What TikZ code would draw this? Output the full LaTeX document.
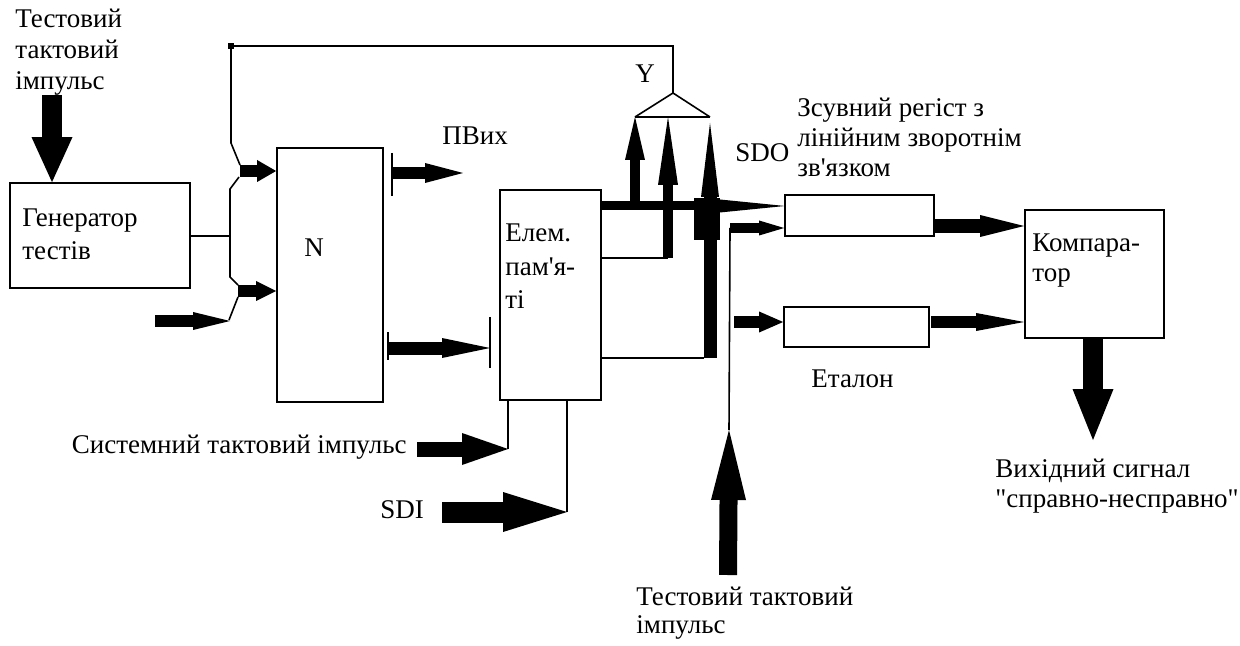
\documentclass[tikz,border=0pt]{standalone}
\usepackage{fontspec}
\setmainfont{Liberation Serif}
\usetikzlibrary{arrows.meta}

\begin{document}
\begin{tikzpicture}[
  x=0.5pt, y=-0.5pt,
  font=\fontsize{13.5}{15.5}\selectfont,
  box/.style={draw,line width=0.9pt,inner sep=0pt},
  txt/.style={inner sep=0pt,align=left,anchor=base west},
  wire/.style={line width=0.8pt},
  fat/.style n args={3}{line width=#1,-{Triangle[length=#2,width=#3,line width=0pt]}}
]
\useasboundingbox (0,0) rectangle (1240,646);

% blocks
\node[box,minimum width=90pt,minimum height=52.5pt] (gen) at (100,235.5) {};
\node[box,minimum width=53pt,minimum height=127pt] (nbox) at (330,275) {};
\node[box,minimum width=50.5pt,minimum height=105pt] (mem) at (550.5,295) {};
\node[box,minimum width=74.5pt,minimum height=20.5pt] (reg) at (859.5,215.5) {};
\node[box,minimum width=72.5pt,minimum height=20pt] (etal) at (856.5,327) {};
\node[box,minimum width=69.5pt,minimum height=64pt] (comp) at (1094.5,274) {};

% texts (multi-line ones sit on their last baseline)
\node[txt] (tclklab) at (15,90) {Тестовий\\тактовий\\імпульс};
\node[txt,font=\fontsize{13.5}{16.5}\selectfont] (genlab) at (22,260) {Генератор\\тестів};
\node[txt] (nlab) at (304,257) {N};
\node[txt] (pvlab) at (442,145) {ПВих};
\node[txt,font=\fontsize{13.5}{16.5}\selectfont] (memlab) at (505,308) {Елем.\\пам\textquotesingle я-\\ті};
\node[txt] (ylab) at (635,83) {Y};
\node[txt] (sdolab) at (735,162) {SDO};
\node[txt,font=\fontsize{13.5}{15}\selectfont] (reglab) at (797,177) {Зсувний регіст з\\лінійним зворотнім\\зв\textquotesingle язком};
\node[txt] (etallab) at (811,387) {Еталон};
\node[txt,font=\fontsize{13.5}{15}\selectfont] (complab) at (1032,282) {Компара-\\тор};
\node[txt,font=\fontsize{13.5}{15}\selectfont] (outlab) at (995,507) {Вихідний сигнал\\\textquotedbl справно-несправно\textquotedbl};
\node[txt,anchor=base east] (syslab) at (407,453) {Системний тактовий імпульс};
\node[txt] (sdilab) at (380,518) {SDI};
\node[txt,font=\fontsize{13.5}{14}\selectfont] (tclk2lab) at (636,633) {Тестовий тактовий\\імпульс};

% points
\coordinate (tclk) at (52,95);
\coordinate (fb) at (231,46);
\coordinate (jn) at (230,236);
\coordinate (swA) at (240,171);
\coordinate (swB) at (238,291);
\coordinate (inL) at (155,321);
\coordinate (pvx) at (392,173);
\coordinate (pvend) at (463,173);
\coordinate (nq) at (388,348);
\coordinate (mq) at (490,348);
\coordinate (yap) at (673,93);
\coordinate (yl) at (635,117);
\coordinate (ym) at (668,117);
\coordinate (yr) at (710,117);
\coordinate (q2) at (668,258);
\coordinate (q3) at (710,358);
\coordinate (sdoin) at (785,206);
\coordinate (tc0) at (728,575);
\coordinate (tc1) at (729,430);
\coordinate (tcin) at (730,228);
\coordinate (ein) at (734,322);
\coordinate (r2c) at (934,226);
\coordinate (e2c) at (931,322);
\coordinate (outtip) at (1093,440);
\coordinate (sysT) at (417,449);
\coordinate (sysH) at (508,449);
\coordinate (sdiT) at (442,512);
\coordinate (sdiH) at (567,512);

% test clock into generator
\draw[fat={10pt}{22.5pt}{20.5pt}] (tclk) -- (tclk |- gen.north);

% feedback from Y and the input switches of N
\draw[wire] (yap) -- (yap |- fb) -- (fb) -- (231,143) -- (240,165);
\draw[line width=0.6pt] (229,44) rectangle (233,48);
\draw[wire] (239,177) -- (230,189) -- (230,277) -- (238,285);
\draw[wire] (238,297) -- (229,320);
\draw[wire] (gen.east |- jn) -- (jn);
\draw[fat={6pt}{9.5pt}{11pt}] (swA) -- (swA -| nbox.west);
\draw[fat={6pt}{10pt}{10pt}] (swB) -- (swB -| nbox.west);
\draw[fat={6pt}{18.5pt}{9pt}] (inL) -- (inL -| jn);

% outputs of N
\draw[wire] (392,153) -- (392,196);
\draw[fat={6pt}{19pt}{10pt}] (pvx) -- (pvend);
\draw[wire] (388,332) -- (388,360);
\draw[wire] (490,317) -- (490,368);
\draw[fat={6.5pt}{24pt}{10pt}] (nq) -- (mq);

% memory element
\draw[wire] (mem.south -| sysH) -- (sysH);
\draw[wire] (mem.south -| sdiH) -- (sdiH);
\draw[fat={7.5pt}{23pt}{16pt}] (sysT) -- (sysH);
\draw[fat={10.5pt}{32pt}{20pt}] (sdiT) -- (sdiH);
\draw[fat={4.5pt}{35pt}{7pt}] (mem.east |- sdoin) -- (sdoin);
\draw[wire] (mem.east |- q2) -- (q2);
\draw[wire] (mem.east |- q3) -- ([xshift=-3pt]q3);
\fill (694,198) rectangle (720,240);
\draw[fat={5pt}{21.5pt}{10pt}] (yl |- sdoin) -- (yl);
\draw[fat={5pt}{34pt}{10pt}] (q2) -- (ym);
\draw[fat={6.5pt}{37pt}{9pt}] (q3) -- ([yshift=-3pt]yr);

% Y
\draw[wire] (yl) -- (yr);
\draw[wire] (yl) -- (yap) -- (yr);

% test clock for the register
\draw[fat={9pt}{35pt}{17.5pt}] (tc0) -- (tc1);
\draw[wire] (tc1) -- (tcin);
\draw[fat={5pt}{12.5pt}{7.5pt}] (tcin) -- (tcin -| reg.west);
\draw[fat={6pt}{12pt}{10.5pt}] (ein) -- (ein -| etal.west);

% comparator
\draw[fat={7pt}{22pt}{11pt}] (r2c) -- (r2c -| comp.west);
\draw[fat={6pt}{24pt}{9pt}] (e2c) -- (e2c -| comp.west);
\draw[fat={10pt}{25.5pt}{20.5pt}] (comp.south -| outtip) -- (outtip);
\end{tikzpicture}
\end{document}
